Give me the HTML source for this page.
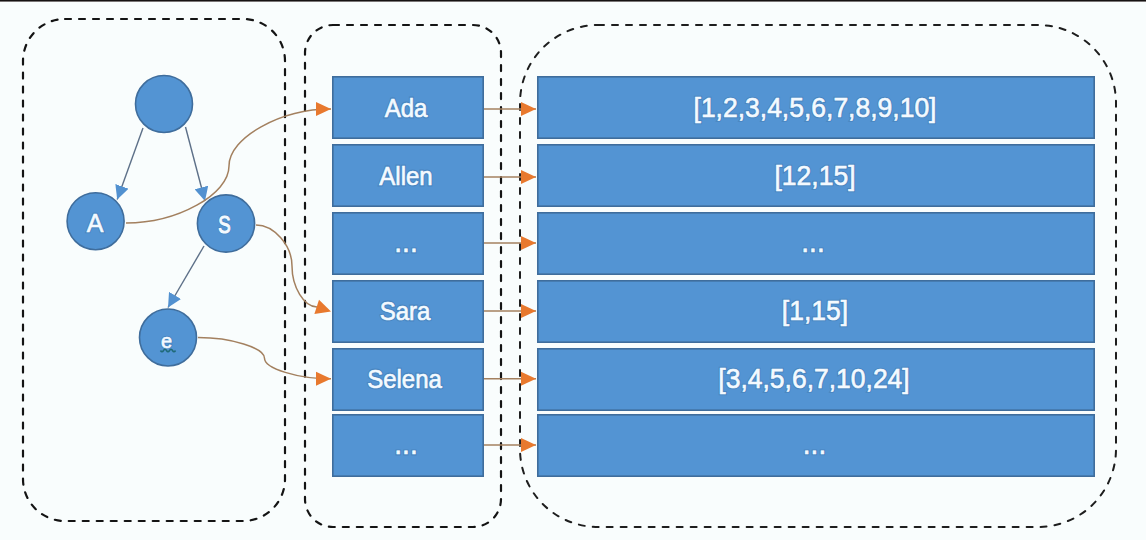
<!DOCTYPE html>
<html><head><meta charset="utf-8">
<style>
html,body{margin:0;padding:0;background:#f9fdfd;width:1146px;height:540px;overflow:hidden}
svg{display:block}
text{font-family:"Liberation Sans",sans-serif;fill:#f4faff;stroke:#f4faff;stroke-width:0.6px}
.halo text{fill:#2f5f90;stroke:#2f5f90;stroke-width:2.6px;opacity:0.28}
</style></head><body>
<svg width="1146" height="540" viewBox="0 0 1146 540">
<defs>
<marker id="ao" viewBox="0 0 16 16" refX="16" refY="8" markerWidth="16" markerHeight="16" markerUnits="userSpaceOnUse" orient="auto">
<path d="M1,1 L16,8 L1,15 Z" fill="#e8792e"/>
</marker>
<marker id="ab" viewBox="0 0 14 14" refX="14" refY="7" markerWidth="14" markerHeight="14" markerUnits="userSpaceOnUse" orient="auto">
<path d="M0,0 L14,7 L0,14 Z" fill="#5291d0"/>
</marker>
</defs>
<rect x="0" y="0" width="1146" height="540" fill="#f9fdfd"/>
<rect x="0" y="0" width="1146" height="1" fill="#161212"/>
<rect x="0" y="1" width="1146" height="1" fill="#7a7676"/>

<!-- dashed containers -->
<g fill="none" stroke="#141414" stroke-width="2.2" stroke-dasharray="6 8" stroke-linecap="round">
<rect x="23" y="19" width="262" height="502" rx="42" ry="42"/>
<rect x="305" y="25" width="196" height="502" rx="28" ry="28"/>
</g>
<rect x="520" y="25" width="596" height="502" rx="78" ry="78" fill="none" stroke="#1e1e1e" stroke-width="2" stroke-dasharray="6 8" stroke-linecap="round"/>

<!-- name boxes -->
<g fill="#5394d3" stroke="#3f6d9c" stroke-width="1.6">
<rect x="332.8" y="76.8" width="150.4" height="61.4"/>
<rect x="332.8" y="144.8" width="150.4" height="61.4"/>
<rect x="332.8" y="212.8" width="150.4" height="61.4"/>
<rect x="332.8" y="280.8" width="150.4" height="61.4"/>
<rect x="332.8" y="348.8" width="150.4" height="61.4"/>
<rect x="332.8" y="414.8" width="150.4" height="61.4"/>
</g>
<!-- value boxes -->
<g fill="#5394d3" stroke="#3f6d9c" stroke-width="1.6">
<rect x="537.8" y="76.8" width="556.4" height="61.4"/>
<rect x="537.8" y="144.8" width="556.4" height="61.4"/>
<rect x="537.8" y="212.8" width="556.4" height="61.4"/>
<rect x="537.8" y="280.8" width="556.4" height="61.4"/>
<rect x="537.8" y="348.8" width="556.4" height="61.4"/>
<rect x="537.8" y="414.8" width="556.4" height="61.4"/>
</g>

<!-- circles -->
<g fill="#5394d3" stroke="#3f6d9c" stroke-width="1.6">
<circle cx="164" cy="104" r="28.5"/>
<circle cx="95.6" cy="221.2" r="28.5"/>
<circle cx="226" cy="223.5" r="28.6"/>
<circle cx="168" cy="337.5" r="28.5"/>
</g>

<!-- blue tree arrows -->
<g fill="none" stroke="#5d7088" stroke-width="1.4">
<line x1="143" y1="128" x2="117.2" y2="199.6" marker-end="url(#ab)"/>
<line x1="185.5" y1="127" x2="205" y2="201" marker-end="url(#ab)"/>
<line x1="204" y1="246" x2="168" y2="307.5" marker-end="url(#ab)"/>
</g>

<!-- orange connectors -->
<g fill="none" stroke="#a3805f" stroke-width="1.5">
<path d="M126,223 C177.5,223 229,194.5 229,166 C229,137.5 280.5,109 331,109" marker-end="url(#ao)"/>
<path d="M256,225 C274,225 292,245.5 292,266 C292,287 304,306.9 317,306.9"/>
<path d="M198,337.5 C231,337.5 264.5,347.8 264.5,358.2 C264.5,368.5 297.7,378.8 331,378.8" marker-end="url(#ao)"/>
<line x1="484" y1="109" x2="536" y2="109" marker-end="url(#ao)"/>
<line x1="484" y1="177" x2="536" y2="177" marker-end="url(#ao)"/>
<line x1="484" y1="243" x2="536" y2="243" marker-end="url(#ao)"/>
<line x1="484" y1="311" x2="536" y2="311" marker-end="url(#ao)"/>
<line x1="484" y1="378.8" x2="536" y2="378.8" marker-end="url(#ao)"/>
<line x1="484" y1="445" x2="536" y2="445" marker-end="url(#ao)"/>
</g>
<g fill="#e8792e">
<path d="M331,311.5 L314.4,314.0 L319.0,299.8 Z"/>
</g>

<g class="halo">
<!-- halo -->
<text x="95" y="231.5" font-size="25" text-anchor="middle">A</text>
<text transform="translate(224.4,233) scale(0.76,1)" x="0" y="0" font-size="24.5" text-anchor="middle" >S</text>
<text x="166.5" y="348" font-size="20" text-anchor="middle">e</text>


<!-- name text -->
<g font-size="24" text-anchor="middle">
<text transform="translate(406,117) scale(1,1.08)">Ada</text>
<text transform="translate(406,185) scale(1,1.08)">Allen</text>
<text transform="translate(406,252) scale(1,1.08)" font-size="28">...</text>
<text transform="translate(405,320) scale(1,1.08)">Sara</text>
<text transform="translate(404.5,387.5) scale(1,1.08)">Selena</text>
<text transform="translate(406,454) scale(1,1.08)" font-size="28">...</text>
</g>
<g font-size="26.5" text-anchor="middle">
<text transform="translate(815,117) scale(1,1.04)">[1,2,3,4,5,6,7,8,9,10]</text>
<text transform="translate(815,185) scale(1,1.04)">[12,15]</text>
<text transform="translate(813,252) scale(1,1.04)" font-size="28">...</text>
<text transform="translate(815,320) scale(1,1.04)">[1,15]</text>
<text transform="translate(814,388) scale(1,1.04)">[3,4,5,6,7,10,24]</text>
<text transform="translate(814.5,454) scale(1,1.04)" font-size="28">...</text>
</g>
</g>
<!-- circle letters -->
<text x="95" y="231.5" font-size="25" text-anchor="middle">A</text>
<text transform="translate(224.4,233) scale(0.76,1)" x="0" y="0" font-size="24.5" text-anchor="middle" style="stroke-width:1.1px">S</text>
<text x="166.5" y="348" font-size="20" text-anchor="middle">e</text>
<path d="M160.5,350.5 q1.5,2.5 3,0 t3,0 t3,0 t3,0 t3,0" fill="none" stroke="#1f6a78" stroke-width="1.6"/>

<!-- name text -->
<g font-size="24" text-anchor="middle">
<text transform="translate(406,117) scale(1,1.08)">Ada</text>
<text transform="translate(406,185) scale(1,1.08)">Allen</text>
<text transform="translate(406,252) scale(1,1.08)" font-size="28">...</text>
<text transform="translate(405,320) scale(1,1.08)">Sara</text>
<text transform="translate(404.5,387.5) scale(1,1.08)">Selena</text>
<text transform="translate(406,454) scale(1,1.08)" font-size="28">...</text>
</g>
<g font-size="26.5" text-anchor="middle">
<text transform="translate(815,117) scale(1,1.04)">[1,2,3,4,5,6,7,8,9,10]</text>
<text transform="translate(815,185) scale(1,1.04)">[12,15]</text>
<text transform="translate(813,252) scale(1,1.04)" font-size="28">...</text>
<text transform="translate(815,320) scale(1,1.04)">[1,15]</text>
<text transform="translate(814,388) scale(1,1.04)">[3,4,5,6,7,10,24]</text>
<text transform="translate(814.5,454) scale(1,1.04)" font-size="28">...</text>
</g>
</svg>
</body></html>
